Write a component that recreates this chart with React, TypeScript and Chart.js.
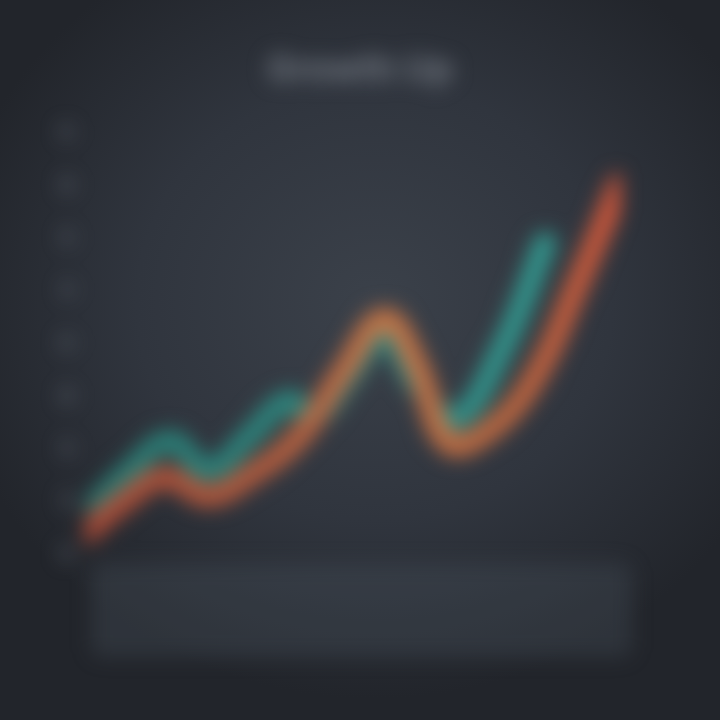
import React, { useEffect, useRef } from "react";
import { Chart, registerables } from "chart.js";

Chart.register(...registerables);

const orangeX = [0, 7, 15, 23, 31, 40, 48, 56, 62, 68, 76, 84, 92, 100];
const orangeY = [5, 12.5, 18.5, 14, 19, 28, 43, 56, 45, 26.5, 30, 42, 64, 88];
const tealX = [2, 8, 16, 23, 31, 38, 43, 49, 56, 62, 69, 78, 86];
const tealY = [12, 19.5, 27, 20, 28.5, 36.5, 33, 42, 52, 41, 32, 49, 74];
const xMin = 0;
const xMax = 100;
const yMin = 0;
const yMax = 100;
const yStep = 12.5;
const chartTitle = "Growth Up";

const toPoints = (xs: number[], ys: number[]) => xs.map((x, i) => ({ x, y: ys[i] }));

const panelPlugin = {
  id: "bottomPanel",
  beforeDraw(chart: any) {
    const { ctx, chartArea } = chart;
    if (!chartArea) return;
    const x = chartArea.left + 6;
    const y = chartArea.bottom + 8;
    const w = chartArea.right - chartArea.left + 6;
    const h = 94;
    ctx.save();
    ctx.fillStyle = "rgba(80, 88, 100, 0.28)";
    ctx.beginPath();
    if (ctx.roundRect) ctx.roundRect(x, y, w, h, 10);
    else ctx.rect(x, y, w, h);
    ctx.fill();
    ctx.restore();
  },
};

function hGradient(ctx: any, area: any, stops: [number, string][]) {
  const g = ctx.createLinearGradient(area.left, 0, area.right, 0);
  stops.forEach(([o, c]) => g.addColorStop(o, c));
  return g;
}

export default function App() {
  const ref = useRef<HTMLCanvasElement | null>(null);

  useEffect(() => {
    document.body.style.margin = "0";
    const canvas = ref.current;
    if (!canvas) return;
    const chart = new Chart(canvas, {
      type: "line",
      data: {
        datasets: [
          {
            label: "Orange",
            data: toPoints(orangeX, orangeY),
            borderWidth: 22,
            tension: 0.4,
            pointRadius: 0,
            borderCapStyle: "round",
            borderJoinStyle: "round",
            borderColor: (c: any) => {
              const area = c.chart.chartArea;
              if (!area) return "#c06840";
              return hGradient(c.chart.ctx, area, [
                [0, "#ad4a36"],
                [0.35, "#b85e3e"],
                [0.55, "#c67546"],
                [0.8, "#c06840"],
                [1, "#d2553a"],
              ]);
            },
          },
          {
            label: "Teal",
            data: toPoints(tealX, tealY),
            borderWidth: 22,
            tension: 0.4,
            pointRadius: 0,
            borderCapStyle: "round",
            borderJoinStyle: "round",
            borderColor: (c: any) => {
              const area = c.chart.chartArea;
              if (!area) return "#2e8a82";
              return hGradient(c.chart.ctx, area, [
                [0, "#2a7b73"],
                [0.5, "#2e8a82"],
                [1, "#34a096"],
              ]);
            },
          },
        ],
      },
      options: {
        animation: false,
        responsive: false,
        layout: { padding: { left: 60, right: 60, bottom: 165, top: 0 } },
        plugins: {
          legend: { display: false },
          tooltip: { enabled: false },
          title: {
            display: true,
            text: chartTitle,
            color: "#70767f",
            font: { family: "Inter", size: 36, weight: "bold" },
            padding: { top: 49, bottom: 41 },
          },
        },
        scales: {
          x: {
            type: "linear",
            min: xMin,
            max: xMax,
            grid: { color: "rgba(255,255,255,0.035)", drawTicks: false },
            border: { display: false },
            ticks: { display: false, stepSize: 10 },
          },
          y: {
            min: yMin,
            max: yMax,
            afterFit: (s: any) => {
              s.width = 25;
            },
            ticks: {
              stepSize: yStep,
              color: "rgba(130,138,150,0.6)",
              font: { family: "Inter", size: 20, weight: "bold" },
              padding: 12,
              callback: (v: any) => String(Math.round(Number(v))),
            },
            grid: { color: "rgba(255,255,255,0.025)", drawTicks: false },
            border: { display: false },
          },
          yRight: {
            position: "right",
            min: yMin,
            max: yMax,
            afterFit: (s: any) => {
              s.width = 40;
            },
            ticks: { display: false },
            grid: { display: false },
            border: { display: false },
          },
        },
      },
      plugins: [panelPlugin],
    });
    return () => chart.destroy();
  }, []);

  return (
    <div
      style={{
        position: "fixed",
        inset: 0,
        width: 720,
        height: 720,
        overflow: "hidden",
        background:
          "radial-gradient(ellipse 60% 55% at 52% 42%, #3b414a 0%, #30353e 55%, #22252b 100%)",
      }}
    >
      <canvas
        ref={ref}
        width={720}
        height={720}
        style={{ width: 720, height: 720, filter: "blur(10px)", display: "block" }}
      />
    </div>
  );
}
